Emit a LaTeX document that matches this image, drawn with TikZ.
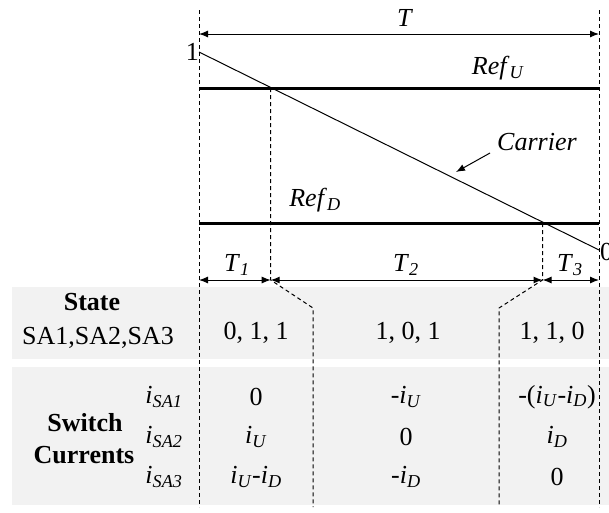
\documentclass[tikz,border=0pt]{standalone}
\usepackage{fontspec}
\setmainfont{Liberation Serif}
\usetikzlibrary{arrows.meta}
\definecolor{band}{HTML}{F2F2F2}
\newcommand{\isub}[2]{\textit{#1}\textsubscript{\textit{#2}}}
\begin{document}
\begin{tikzpicture}[x=1pt,y=-1pt,
  lbl/.style={inner sep=0pt,font=\fontsize{26}{31}\selectfont},
  blbl/.style={inner sep=0pt,font=\fontsize{26}{31}\selectfont\bfseries},
  guide/.style={line width=1pt,dash pattern=on 4pt off 3pt},
  dim/.style={line width=1pt,{Latex[length=9pt,width=7pt]}-{Latex[length=9pt,width=7pt]}},
  refline/.style={line width=3pt},
  carrierline/.style={line width=1pt}]
\useasboundingbox (0,0) rectangle (609,512);
% background bands
\fill[band] (12,287) rectangle (609,359);
\fill[band] (12,367) rectangle (609,505);
% coordinates
\coordinate (Lt) at (199,10);
\coordinate (Lb) at (199,507);
\coordinate (Rt) at (599,10);
\coordinate (Rb) at (599,507);
\coordinate (TL) at (199,34);
\coordinate (TR) at (599,34);
\coordinate (C0) at (199,52);
\coordinate (C1) at (599,250);
\coordinate (UL) at (199,88);
\coordinate (UR) at (599,88);
\coordinate (DL) at (199,223);
\coordinate (DR) at (599,223);
\coordinate (A1) at (270.7,88);
\coordinate (A2) at (270.7,280);
\coordinate (A3) at (313,308);
\coordinate (A4) at (313,507);
\coordinate (B1) at (542.5,223);
\coordinate (B2) at (542.5,280);
\coordinate (B3) at (499,308);
\coordinate (B4) at (499,507);
\coordinate (K0) at (199,280);
\coordinate (K3) at (599,280);
\coordinate (CA0) at (490,153);
\coordinate (CA1) at (456,172);
% guides
\draw[guide] (Lt) -- (Lb);
\draw[guide] (Rt) -- (Rb);
\draw[guide] (A1) -- (A2) -- (A3) -- (A4);
\draw[guide] (B1) -- (B2) -- (B3) -- (B4);
% waveforms
\draw[refline] (UL) -- (UR);
\draw[refline] (DL) -- (DR);
\draw[carrierline] (C0) -- (C1);
\draw[line width=1pt,-{Latex[length=9pt,width=7pt]}] (CA0) -- (CA1);
% dimension arrows
\draw[dim] (TL) -- (TR);
\draw[dim] (K0) -- (A2);
\draw[dim] (A2) -- (B2);
\draw[dim] (B2) -- (K3);
% labels
\node[lbl] (tT) at (405,18) {\textit{T}};
\node[lbl,anchor=east] (one) at (199,52) {1};
\node[lbl,anchor=west] (zero) at (600,252) {0};
\node[lbl] (refu) at (498,68) {\isub{Ref}{U}};
\node[lbl] (refd) at (315,200) {\isub{Ref}{D}};
\node[lbl] (carr) at (537,142) {\textit{Carrier}};
\node[lbl] (t1) at (237,265) {\isub{T}{1}};
\node[lbl] (t2) at (406,265) {\isub{T}{2}};
\node[lbl] (t3) at (570,265) {\isub{T}{3}};
% state table
\node[blbl] (state) at (92,302) {State};
\node[lbl] (sas) at (98,338) {SA1,SA2,SA3};
\node[lbl] (s1) at (256,333) {0, 1, 1};
\node[lbl] (s2) at (408,333) {1, 0, 1};
\node[lbl] (s3) at (552,333) {1, 1, 0};
% switch currents
\node[blbl] (sw) at (85,423) {Switch};
\node[blbl] (cur) at (84,455) {Currents};
\node[lbl] (i1) at (164,397) {\isub{i}{SA1}};
\node[lbl] (i2) at (164,437) {\isub{i}{SA2}};
\node[lbl] (i3) at (164,477) {\isub{i}{SA3}};
\node[lbl] (v11) at (256,397) {0};
\node[lbl] (v12) at (256,437) {\isub{i}{U}};
\node[lbl] (v13) at (256,477) {\isub{i}{U}-\isub{i}{D}};
\node[lbl] (v21) at (406,397) {-\isub{i}{U}};
\node[lbl] (v22) at (406,437) {0};
\node[lbl] (v23) at (406,477) {-\isub{i}{D}};
\node[lbl] (v31) at (557,397) {-(\isub{i}{U}-\isub{i}{D})};
\node[lbl] (v32) at (557,437) {\isub{i}{D}};
\node[lbl] (v33) at (557,477) {0};
\end{tikzpicture}
\end{document}
